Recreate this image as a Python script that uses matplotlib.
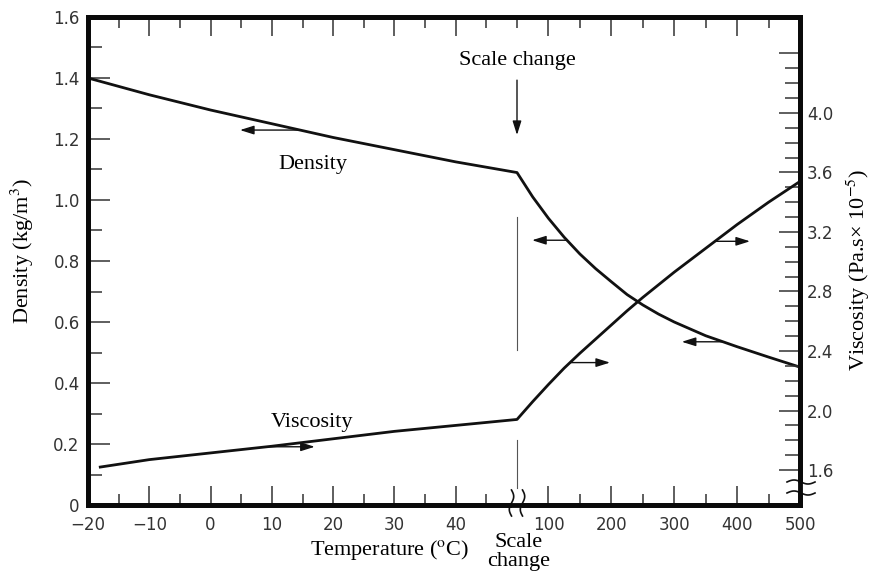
import matplotlib.pyplot as plt
import numpy as np
from matplotlib.ticker import FixedLocator, FixedFormatter
from matplotlib.patches import Rectangle

plt.rcParams['mathtext.fontset'] = 'stix'
SERIF = 'Liberation Serif'

# air properties, -20..50 C on one scale, 50..500 C on another
temp_low = [-20, -10, 0, 10, 20, 30, 40, 50]
density_low = [1.40, 1.345, 1.295, 1.25, 1.205, 1.165, 1.125, 1.09]
temp_visc_low = [-18, -10, 0, 10, 20, 30, 40, 50]
viscosity_low = [1.62, 1.67, 1.715, 1.76, 1.81, 1.86, 1.90, 1.94]

temp_high = [75, 100, 125, 150, 175, 200, 225, 250, 275, 300, 350, 400, 450, 500]
density_high = [1.01, 0.94, 0.878, 0.823, 0.775, 0.732, 0.69, 0.656, 0.626, 0.600,
                0.555, 0.519, 0.485, 0.452]
viscosity_high = [2.06, 2.175, 2.285, 2.385, 2.48, 2.575, 2.67, 2.76, 2.845, 2.93,
                  3.09, 3.25, 3.40, 3.54]

x_major = [-20, -10, 0, 10, 20, 30, 40, 100, 200, 300, 400, 500]
x_labels = ['\u221220', '\u221210', '0', '10', '20', '30', '40', '100', '200', '300', '400', '500']
x_minor = [-15, -5, 5, 15, 25, 35, 45, 50, 150, 250, 350, 450]

rho_major = [0, 0.2, 0.4, 0.6, 0.8, 1.0, 1.2, 1.4, 1.6]
rho_labels = ['0', '0.2', '0.4', '0.6', '0.8', '1.0', '1.2', '1.4', '1.6']
mu_major = [1.6, 2.0, 2.4, 2.8, 3.2, 3.6, 4.0, 4.4]
mu_labels = ['1.6', '2.0', '2.4', '2.8', '3.2', '3.6', '4.0', '']

# arrow (tail, head) temperatures pointing to the axis each curve belongs to
density_arrows = [(14.6, 4.8), (129.5, 74), (377.6, 312)]
viscosity_arrows = [(9.2, 17.0), (134.3, 197.9), (364.8, 420.5)]

T_BREAK = 50


def fwd(t):
    t = np.asarray(t, dtype=float)
    return np.where(t <= T_BREAK, (t + 20) / 70 * 429, 429 + (t - T_BREAK) / 450 * 283)


def inv(u):
    u = np.asarray(u, dtype=float)
    return np.where(u <= 429, u / 429 * 70 - 20, T_BREAK + (u - 429) / 283 * 450)


temps_rho = temp_low + temp_high
rho = density_low + density_high
temps_mu = temp_visc_low + temp_high
mu = viscosity_low + viscosity_high

fig = plt.figure(figsize=(8.72, 5.79), dpi=100)
ax = fig.add_axes([88 / 872, 1 - 505 / 579, 712 / 872, 488 / 579])
ax.set_xscale('function', functions=(fwd, inv))
ax.set_xlim(-20, 500)
ax.set_ylim(0, 1.6)
ax2 = ax.twinx()
ax2.set_ylim(1.365, 4.645)

ax.plot(temps_rho, rho, color='#111111', lw=2.0, solid_joinstyle='round')
ax2.plot(temps_mu, mu, color='#111111', lw=2.0, solid_joinstyle='round')

arrow_kw = dict(arrowstyle='-|>,head_length=0.7,head_width=0.22', color='#111111',
                lw=1.0, mutation_scale=12, shrinkA=0, shrinkB=0)
for t0, t1 in density_arrows:
    y = np.interp(t0, temps_rho, rho)
    ax.annotate('', xy=(t1, y), xytext=(t0, y), arrowprops=arrow_kw)
for t0, t1 in viscosity_arrows:
    y = np.interp(t0, temps_mu, mu)
    ax2.annotate('', xy=(t1, y), xytext=(t0, y), arrowprops=arrow_kw)

# scale change marker
ax.annotate('', xy=(T_BREAK, 1.213), xytext=(T_BREAK, 1.393), arrowprops=arrow_kw)
ax.text(T_BREAK, 1.443, 'Scale change', family=SERIF, fontsize=16, ha='center', va='baseline')
ax.plot([T_BREAK, T_BREAK], [0.508, 0.944], color='#555555', lw=0.8)
ax.plot([T_BREAK, T_BREAK], [0.056, 0.213], color='#555555', lw=0.8)

ax.text(16.7, 1.102, 'Density', family=SERIF, fontsize=16, ha='center', va='baseline')
ax.text(16.6, 0.256, 'Viscosity', family=SERIF, fontsize=16, ha='center', va='baseline')

xt = ax.get_xaxis_transform()
ax.text(53, -0.086, 'Scale', family=SERIF, fontsize=16, ha='center', va='baseline', transform=xt)
ax.text(53, -0.125, 'change', family=SERIF, fontsize=16, ha='center', va='baseline', transform=xt)

# axes styling
for a in (ax, ax2):
    for s in a.spines.values():
        s.set_linewidth(3.5)
        s.set_color('#0a0a0a')

ax.xaxis.set_major_locator(FixedLocator(x_major))
ax.xaxis.set_major_formatter(FixedFormatter(x_labels))
ax.xaxis.set_minor_locator(FixedLocator(x_minor))
ax.yaxis.set_major_locator(FixedLocator(rho_major))
ax.yaxis.set_major_formatter(FixedFormatter(rho_labels))
ax.yaxis.set_minor_locator(FixedLocator(np.arange(0.1, 1.6, 0.2)))
ax2.yaxis.set_major_locator(FixedLocator(mu_major))
ax2.yaxis.set_major_formatter(FixedFormatter(mu_labels))
ax2.yaxis.set_minor_locator(FixedLocator(np.round(np.arange(1.7, 4.35, 0.1), 1)))

tick_col = '#333333'
ax.tick_params(axis='x', which='both', direction='in', top=True, bottom=True,
               width=1.1, color=tick_col, labelsize=12, labelcolor=tick_col, pad=8)
ax.tick_params(axis='x', which='major', length=14)
ax.tick_params(axis='x', which='minor', length=8)
ax.tick_params(axis='y', which='both', direction='in', left=True, right=False,
               width=1.1, color=tick_col, labelsize=12, labelcolor=tick_col, pad=6)
ax.tick_params(axis='y', which='major', length=16)
ax.tick_params(axis='y', which='minor', length=10)
ax2.tick_params(axis='y', which='both', direction='in', right=True, left=False,
                width=1.1, color=tick_col, labelsize=12, labelcolor=tick_col, pad=5)
ax2.tick_params(axis='y', which='major', length=15)
ax2.tick_params(axis='y', which='minor', length=10.8)

ax.set_xlabel('Temperature ($^{\\rm o}$C)', family=SERIF, fontsize=16)
ax.xaxis.label.set_va('baseline')
ax.xaxis.set_label_coords(0.424, -0.1025)
ax.set_ylabel('Density (kg/m$^3$)', family=SERIF, fontsize=16)
ax.yaxis.label.set_va('center')
ax.yaxis.set_label_coords(-0.0927, 0.52)
ax2.set_ylabel('Viscosity (Pa.s\u00d7 10$^{-5}$)', family=SERIF, fontsize=16, rotation=90)
ax2.yaxis.label.set_va('center')
ax2.yaxis.set_label_coords(1.0815, 0.4816)

# break symbols on the temperature axis and the viscosity axis
W, H = 712.0, 488.0
xb = float(fwd(T_BREAK) / fwd(500))
ax.add_patch(Rectangle((xb - 5 / W, -6 / H), 10 / W, 20 / H, transform=ax.transAxes,
                       facecolor='white', edgecolor='none', clip_on=False, zorder=5))
s = np.linspace(0, 1, 40)
for dx in (-5.5, 5.5):
    px = xb + (dx + 2.2 * np.sin(2 * np.pi * s)) / W
    py = (15 - 26 * s) / H
    ax.plot(px, py, color='#111111', lw=1.2, transform=ax.transAxes, clip_on=False, zorder=6)

yb = (505 - 487.5) / H
ax.add_patch(Rectangle((1 - 6 / W, yb - 5 / H), 12 / W, 10 / H, transform=ax.transAxes,
                       facecolor='white', edgecolor='none', clip_on=False, zorder=5))
for dy in (5.5, -5.5):
    px = 1 + (-13 + 28 * s) / W
    py = yb + (dy + 2.0 * np.sin(2 * np.pi * s)) / H
    ax.plot(px, py, color='#111111', lw=1.2, transform=ax.transAxes, clip_on=False, zorder=6)

fig.savefig('out.png', dpi=100, facecolor='white')
